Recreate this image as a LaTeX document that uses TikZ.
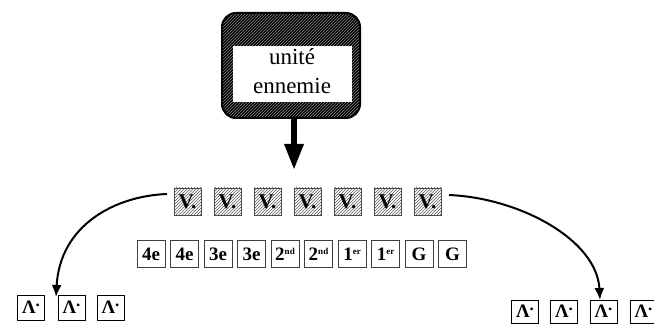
\documentclass[tikz,border=0pt]{standalone}
\usepackage{fontspec}
\setmainfont{Liberation Serif}
\usetikzlibrary{patterns,arrows.meta}
\newcommand{\supx}[1]{\raisebox{6pt}{\fontsize{9}{9}\selectfont #1}}
\newcommand{\lam}{Λ\raisebox{7pt}{\fontsize{17}{17}\selectfont .}}
\begin{document}
\begin{tikzpicture}[x=1pt,y=-1pt,
 vbox/.style={draw=black!70, line width=0.8pt, pattern=north east lines, pattern color=black!65, minimum width=27pt, minimum height=27pt, inner sep=0pt, font=\bfseries\fontsize{21}{21}\selectfont},
 rbox/.style={draw=black!75, line width=0.8pt, fill=white, minimum width=28pt, minimum height=27pt, inner sep=0pt, font=\bfseries\fontsize{19}{19}\selectfont},
 lbox/.style={draw=black, line width=0.8pt, minimum width=27pt, minimum height=25pt, inner sep=0pt, font=\bfseries\fontsize{19}{19}\selectfont},
 curve/.style={line width=2pt, -{Latex[length=12pt,width=10pt]}},
]
\useasboundingbox (0,0) rectangle (654,328);
% enemy unit
\node (enemy) [draw, line width=2pt, rounded corners=14pt, minimum width=138pt, minimum height=105pt, preaction={fill=black}, pattern=north east lines, pattern color=black!45] at (291,65.5) {};
\node (label) [fill=white, minimum width=119pt, minimum height=56pt, inner sep=0pt] at (292.5,74) {};
\node (txt) [align=center, inner sep=0pt, font=\fontsize{23}{29}\selectfont] at (292,71) {unité\\ennemie};
% big arrow
\coordinate (atip) at (294,170);
\draw[line width=6pt, -{Triangle[length=26pt,width=18pt]}] (enemy.south -| atip) -- (atip);
% V boxes
\foreach \i in {1,...,7} {
  \node (v\i) [vbox] at ({187.5+40*(\i-1)},201.5) {V.};
}
% rank boxes
\foreach \t [count=\i] in {4e,4e,3e,3e,2\supx{nd},2\supx{nd},1\supx{er},1\supx{er},G,G} {
  \node (r\i) [rbox] at ({151+33.5*(\i-1)},254) {\t};
}
% left lambda boxes
\foreach \x [count=\i] in {31,71.5,110.5} {
  \node (l\i) [lbox] at (\x,307.5) {\lam};
}
% right lambda boxes
\foreach \x [count=\i] in {525,564,603.5,643.5} {
  \node (q\i) [lbox, minimum height=23pt] at (\x,311.5) {\lam};
}
% curves
\coordinate (ls) at (167,194);
\coordinate (le) at (56,297);
\draw[curve] (ls) .. controls (115,196) and (60,225) .. (le);
\coordinate (rs) at (449,195);
\coordinate (re) at (600,300);
\draw[curve] (rs) .. controls (520,198) and (597,240) .. (re);
\end{tikzpicture}
\end{document}
